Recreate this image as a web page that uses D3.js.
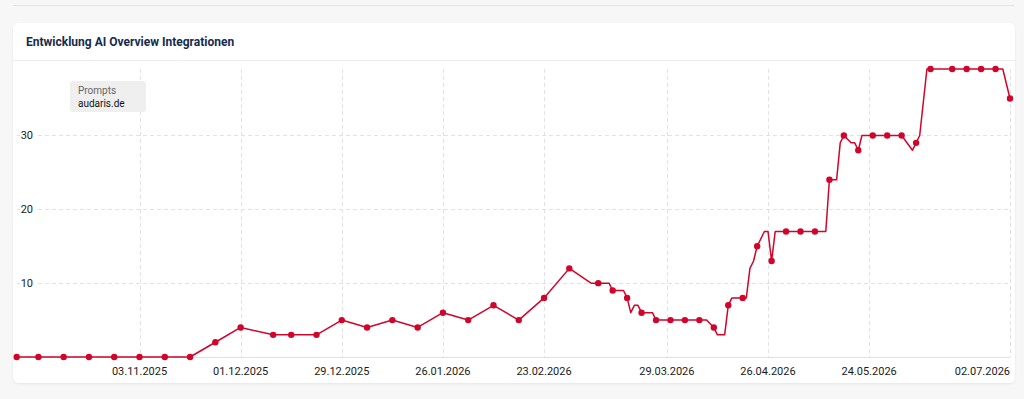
<!DOCTYPE html>
<html>
<head>
<meta charset="utf-8">
<script src="https://cdn.jsdelivr.net/npm/d3@7"></script>
<style>
  body { margin: 0; background: #f7f7f7; font-family: Roboto, "Noto Sans", sans-serif; }
  svg { display: block; }
</style>
</head>
<body>
<div id="chart"></div>
<script>
// daily values, markers only on the sampled days
const dates = [
  '2025-09-30', '2025-10-06', '2025-10-13', '2025-10-20', '2025-10-27', '2025-11-03',
  '2025-11-10', '2025-11-17', '2025-11-24', '2025-12-01', '2025-12-10', '2025-12-15',
  '2025-12-22', '2025-12-29', '2026-01-05', '2026-01-12', '2026-01-19', '2026-01-26',
  '2026-02-02', '2026-02-09', '2026-02-16', '2026-02-23', '2026-03-02', '2026-03-08',
  '2026-03-10', '2026-03-13', '2026-03-14', '2026-03-17', '2026-03-18', '2026-03-19',
  '2026-03-20', '2026-03-21', '2026-03-22', '2026-03-25', '2026-03-26', '2026-03-30',
  '2026-04-03', '2026-04-07', '2026-04-09', '2026-04-11', '2026-04-12', '2026-04-14',
  '2026-04-15', '2026-04-16', '2026-04-19', '2026-04-20', '2026-04-21', '2026-04-22',
  '2026-04-23', '2026-04-25', '2026-04-26', '2026-04-27', '2026-04-28', '2026-05-01',
  '2026-05-05', '2026-05-09', '2026-05-12', '2026-05-13', '2026-05-15', '2026-05-16',
  '2026-05-17', '2026-05-19', '2026-05-20', '2026-05-21', '2026-05-22', '2026-05-25',
  '2026-05-29', '2026-06-02', '2026-06-05', '2026-06-06', '2026-06-07', '2026-06-09',
  '2026-06-10', '2026-06-16', '2026-06-20', '2026-06-24', '2026-06-28', '2026-06-30',
  '2026-07-02'
];
const prompts = [
  0, 0, 0, 0, 0, 0,
  0, 0, 2, 4, 3, 3,
  3, 5, 4, 5, 4, 6,
  5, 7, 5, 8, 12, 10,
  10, 10, 9, 9, 8, 6,
  7, 7, 6, 6, 5, 5,
  5, 5, 5, 4, 3, 3,
  7, 8, 8, 8, 12, 13,
  15, 17, 17, 13, 17, 17,
  17, 17, 17, 24, 24, 29,
  30, 29, 29, 28, 30, 30,
  30, 30, 28, 29, 30, 39,
  39, 39, 39, 39, 39, 39,
  35
];
const marker = [
  1, 1, 1, 1, 1, 1,
  1, 1, 1, 1, 1, 1,
  1, 1, 1, 1, 1, 1,
  1, 1, 1, 1, 1, 0,
  1, 0, 1, 0, 1, 0,
  0, 0, 1, 0, 1, 1,
  1, 1, 0, 1, 0, 0,
  1, 0, 1, 0, 0, 0,
  1, 0, 0, 1, 0, 1,
  1, 1, 0, 1, 0, 0,
  1, 0, 0, 1, 0, 1,
  1, 1, 0, 1, 0, 0,
  1, 1, 1, 1, 1, 0,
  1
];
const xTicks = ['2025-11-03', '2025-12-01', '2025-12-29', '2026-01-26', '2026-02-23',
  '2026-03-29', '2026-04-26', '2026-05-24', '2026-07-02'];
const yTicks = [10, 20, 30];
const seriesName = 'Prompts';
const domainName = 'audaris.de';
const title = 'Entwicklung AI Overview Integrationen';

const width = 1024, height = 399;
const parse = d3.utcParse('%Y-%m-%d');
const fmt = d3.utcFormat('%d.%m.%Y');
const data = dates.map((d, i) => ({date: parse(d), value: prompts[i], marker: marker[i]}));

const svg = d3.select('#chart').append('svg')
  .attr('width', width)
  .attr('height', height);

// top rule of the page
svg.append('line')
  .attr('x1', 13).attr('x2', 1014).attr('y1', 5.5).attr('y2', 5.5)
  .attr('stroke', '#e3e3e3');

// card
const defs = svg.append('defs');
const shadow = defs.append('filter').attr('id', 'sh').attr('x', '-5%').attr('y', '-5%')
  .attr('width', '110%').attr('height', '115%');
shadow.append('feDropShadow').attr('dx', 0).attr('dy', 1).attr('stdDeviation', 1.2)
  .attr('flood-color', '#000').attr('flood-opacity', 0.08);

svg.append('rect')
  .attr('x', 13).attr('y', 23).attr('width', 1002).attr('height', 360)
  .attr('rx', 6).attr('fill', '#fff').attr('filter', 'url(#sh)');

svg.append('text')
  .attr('x', 26).attr('y', 46)
  .attr('font-size', 12).attr('font-weight', 700)
  .attr('fill', '#142b4d')
  .text(title);

svg.append('line')
  .attr('x1', 13).attr('x2', 1015).attr('y1', 60.5).attr('y2', 60.5)
  .attr('stroke', '#ececec');

const x = d3.scaleUtc()
  .domain(d3.extent(data, d => d.date))
  .range([16.7, 1010]);
const y = d3.scaleLinear()
  .domain([0, 39])
  .range([357, 69]);

const grid = svg.append('g').attr('stroke', '#e2e2e2').attr('stroke-dasharray', '4,3');
grid.selectAll('.vg')
  .data(xTicks.map(parse))
  .enter().append('line')
  .attr('x1', d => Math.round(x(d)) + 0.5).attr('x2', d => Math.round(x(d)) + 0.5)
  .attr('y1', 69).attr('y2', 357);
grid.selectAll('.hg')
  .data(yTicks)
  .enter().append('line')
  .attr('x1', 17).attr('x2', 1010)
  .attr('y1', d => Math.round(y(d)) + 0.5).attr('y2', d => Math.round(y(d)) + 0.5);

// baseline
svg.append('line')
  .attr('x1', 17).attr('x2', 1010).attr('y1', 357.5).attr('y2', 357.5)
  .attr('stroke', '#e0e0e0');

// y labels sit on a white patch over the grid
const yl = svg.append('g').selectAll('g')
  .data(yTicks)
  .enter().append('g')
  .attr('transform', d => 'translate(0,' + y(d) + ')');
yl.append('rect')
  .attr('x', 20).attr('y', -6).attr('width', 15).attr('height', 12)
  .attr('fill', '#fff');
yl.append('text')
  .attr('x', 33).attr('dy', '0.35em')
  .attr('text-anchor', 'end')
  .attr('font-size', 11).attr('fill', '#222')
  .text(d => d);

// x labels, the last one is right-aligned to the plot edge
svg.append('g').selectAll('text')
  .data(xTicks.map(parse))
  .enter().append('text')
  .attr('x', d => x(d))
  .attr('y', 375)
  .attr('text-anchor', (d, i) => i === xTicks.length - 1 ? 'end' : 'middle')
  .attr('font-size', 11).attr('fill', '#1a1a1a')
  .text(d => fmt(d));

// legend box
const lg = svg.append('g').attr('transform', 'translate(70,81)');
lg.append('rect').attr('width', 76).attr('height', 31).attr('rx', 3).attr('fill', '#efefef');
lg.append('text').attr('x', 8).attr('y', 12.5).attr('font-size', 10).attr('fill', '#666').text(seriesName);
lg.append('text').attr('x', 8).attr('y', 26).attr('font-size', 10).attr('fill', '#111').text(domainName);

const line = d3.line()
  .x(d => x(d.date))
  .y(d => y(d.value));

svg.append('path')
  .datum(data)
  .attr('fill', 'none')
  .attr('stroke', '#d0052b')
  .attr('stroke-width', 1.5)
  .attr('stroke-linejoin', 'round')
  .attr('d', line);

svg.append('g').selectAll('circle')
  .data(data.filter(d => d.marker))
  .enter().append('circle')
  .attr('cx', d => x(d.date))
  .attr('cy', d => y(d.value))
  .attr('r', 3.2)
  .attr('fill', '#d0052b');
</script>
</body>
</html>
